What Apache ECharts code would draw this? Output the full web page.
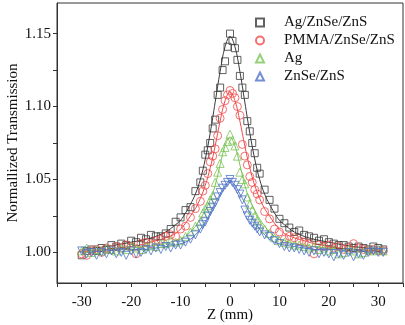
<!DOCTYPE html>
<html><head><meta charset="utf-8">
<script src="https://cdn.jsdelivr.net/npm/echarts@6/dist/echarts.min.js"></script>
<style>html,body{margin:0;padding:0;background:#fff}#c{width:405px;height:325px}</style>
</head><body><div id="c"></div>
<script>
// Shared Z positions (mm) for measured points
var zPos = [-30,-29,-28,-27,-26,-25,-24,-23,-22,-21,-20,-19,-18,-17,-16,-15,-14,-13,-12,-11,-10,-9,-8,-7,
  -6,-5.5,-5,-4.5,-4,-3.5,-3,-2.5,-2,-1.5,-1,-0.5,0,0.5,1,1.5,2,2.5,3,3.5,4,4.5,5,5.5,6,
  7,8,9,10,11,12,13,14,15,16,17,18,19,20,21,22,23,24,25,26,27,28,29,30,31];

var seriesNames = ['Ag/ZnSe/ZnS','PMMA/ZnSe/ZnS','Ag','ZnSe/ZnS'];

var agZnSeZnS = [0.998,1.001,1.002,1.001,1.003,1.002,1.005,1.004,1.006,1.005,1.008,1.007,1.010,1.009,1.012,1.011,1.011,1.013,1.016,1.021,1.024,1.029,1.031,1.042,
  1.048,1.056,1.067,1.070,1.075,1.085,1.091,1.108,1.113,1.125,1.131,1.141,1.150,1.145,1.140,1.132,1.121,1.113,1.108,1.090,1.083,1.075,1.068,1.058,1.054,
  1.043,1.036,1.030,1.023,1.020,1.017,1.014,1.015,1.012,1.011,1.010,1.008,1.009,1.007,1.006,1.005,1.005,1.004,1.003,1.004,1.003,1.002,1.004,1.003,1.002];

var pmmaZnSeZnS = [0.999,0.998,1.001,1.002,1.000,1.003,1.002,1.004,1.003,1.005,1.004,0.999,1.006,1.007,1.006,1.008,1.009,1.011,1.012,1.011,1.016,1.018,1.024,1.030,
  1.035,1.042,1.046,1.054,1.062,1.066,1.071,1.080,1.092,1.098,1.104,1.108,1.111,1.109,1.106,1.100,1.094,1.074,1.066,1.060,1.052,1.048,1.043,1.040,1.036,
  1.028,1.023,1.016,1.014,1.009,1.011,1.010,1.008,1.007,1.006,0.999,1.005,1.004,1.005,1.003,1.004,1.002,1.003,1.006,1.003,1.002,1.001,1.002,1.001,1.001];

var agOnly = [1.001,1.003,1.000,1.002,1.001,1.003,1.002,1.001,1.003,1.002,1.004,1.003,1.002,1.004,1.005,1.004,1.006,1.006,1.008,1.007,1.008,1.011,1.014,1.018,
  1.021,1.027,1.030,1.032,1.036,1.039,1.048,1.055,1.061,1.069,1.072,1.076,1.081,1.077,1.073,1.066,1.055,1.050,1.047,1.038,1.033,1.029,1.025,1.022,1.019,
  1.016,1.013,1.010,1.008,1.007,1.006,1.005,1.005,1.004,1.003,1.004,1.002,1.003,1.001,1.002,0.999,1.000,1.002,1.001,0.999,1.000,1.002,1.001,1.002,1.001];

var znSeZnS = [1.001,0.999,1.000,0.998,1.000,0.999,1.001,0.999,1.000,0.998,1.001,0.999,1.000,1.002,1.001,1.003,1.002,1.004,1.003,1.005,1.005,1.007,1.009,1.012,
  1.016,1.019,1.021,1.025,1.028,1.031,1.034,1.038,1.041,1.044,1.046,1.048,1.050,1.048,1.046,1.043,1.040,1.036,1.029,1.025,1.022,1.020,1.018,1.016,1.014,
  1.012,1.011,1.008,1.006,1.004,1.003,1.003,1.002,1.001,1.000,1.001,0.999,1.000,0.999,0.997,0.999,0.998,1.000,0.997,0.999,0.998,1.000,1.001,1.000,1.000];

// Fitted curves
var fitZ = [-30,-25,-20,-17,-15,-13,-11,-10,-9,-8,-7,-6,-5,-4,-3,-2,-1,0,1,2,3,4,5,6,7,8,9,10,11,13,15,17,20,25,31];
var fitAgZnSeZnS = [1.002,1.004,1.007,1.009,1.011,1.014,1.019,1.022,1.027,1.033,1.040,1.050,1.064,1.082,1.103,1.124,1.141,1.148,1.141,1.124,1.103,1.082,1.064,1.050,1.040,1.033,1.027,1.022,1.019,1.014,1.011,1.009,1.007,1.004,1.002];
var fitPmma = [1.001,1.002,1.004,1.006,1.008,1.010,1.013,1.016,1.020,1.025,1.030,1.037,1.046,1.058,1.073,1.090,1.104,1.110,1.104,1.090,1.073,1.058,1.046,1.037,1.030,1.025,1.020,1.016,1.013,1.010,1.008,1.006,1.004,1.002,1.001];
var fitAg = [1.001,1.002,1.003,1.004,1.005,1.006,1.008,1.009,1.011,1.014,1.018,1.023,1.029,1.036,1.046,1.060,1.073,1.079,1.073,1.060,1.046,1.036,1.029,1.023,1.018,1.014,1.011,1.009,1.008,1.006,1.005,1.004,1.003,1.002,1.001];
var fitZnSe = [1.000,1.001,1.002,1.002,1.003,1.004,1.005,1.006,1.007,1.009,1.012,1.016,1.021,1.027,1.034,1.040,1.046,1.049,1.046,1.040,1.034,1.027,1.021,1.016,1.012,1.009,1.007,1.006,1.005,1.004,1.003,1.002,1.002,1.001,1.000];

var xTicks = [-35,-30,-25,-20,-15,-10,-5,0,5,10,15,20,25,30,35];
var xLabels = [-30,-20,-10,0,10,20,30];
var yTicks = [1.0,1.025,1.05,1.075,1.1,1.125,1.15];
var yLabels = [1.0,1.05,1.1,1.15];

var colors = ['#3a3a3a','#f24a4a','#7cc458','#4f73c8'];
var symbols = ['rect','circle','triangle','triangle'];
var rotations = [0,0,0,180];
var measured = [agZnSeZnS, pmmaZnSeZnS, agOnly, znSeZnS];
var fits = [fitAgZnSeZnS, fitPmma, fitAg, fitZnSe];

function pair(xs, ys){ return xs.map(function(x,i){ return [x, ys[i]]; }); }

var font = 'Liberation Serif';
var series = [];
fits.forEach(function(f,i){
  series.push({type:'line', name:'fit'+i, data:pair(fitZ,f), smooth:0.4, showSymbol:false, silent:true,
    lineStyle:{color:colors[i], width:1}, z:1});
});
measured.forEach(function(m,i){
  series.push({type:'scatter', name:seriesNames[i], data:pair(zPos,m), symbol:symbols[i], symbolRotate:rotations[i],
    symbolSize: i===0?7:8,
    itemStyle:{color:'rgba(0,0,0,0)', borderColor:colors[i], borderWidth:1}, z:2});
});

var chart = echarts.init(document.getElementById('c'), null, {renderer:'canvas'});
chart.setOption({
  animation:false,
  backgroundColor:'#fff',
  grid:{left:57, right:2, top:3, bottom:42, containLabel:false, outerBoundsMode:'none',
    show:true, borderColor:'#333', borderWidth:1, backgroundColor:'transparent'},
  legend:{data:seriesNames, orient:'vertical', left:250, top:10, itemGap:3, itemWidth:8, itemHeight:8,
    textStyle:{fontFamily:font, fontSize:15, color:'#111', lineHeight:15, padding:[0,0,0,15]}, symbolRotate:'inherit'},
  xAxis:{type:'value', min:-35, max:35, name:'Z (mm)', nameLocation:'middle', nameGap:25, nameMoveOverlap:false,
    nameTextStyle:{fontFamily:font, fontSize:15, color:'#111'},
    axisLine:{onZero:false, lineStyle:{color:'#333', width:1}},
    axisTick:{show:true, inside:false, length:4, customValues:xTicks, lineStyle:{color:'#333'}},
    axisLabel:{customValues:xLabels, fontFamily:font, fontSize:15, color:'#111', margin:12},
    splitLine:{show:false}},
  yAxis:{type:'value', min:0.979, max:1.171, name:'Normallized Transmission', nameLocation:'middle', nameGap:36, nameMoveOverlap:false,
    nameTextStyle:{fontFamily:font, fontSize:15, color:'#111'},
    axisLine:{show:true, onZero:false, lineStyle:{color:'#333', width:1}},
    axisTick:{show:true, inside:false, length:4, customValues:yTicks, lineStyle:{color:'#333'}},
    axisLabel:{customValues:yLabels, fontFamily:font, fontSize:15, color:'#111', margin:6,
      formatter:function(v){ return v.toFixed(2); }},
    splitLine:{show:false}},
  series:series
});
</script></body></html>
